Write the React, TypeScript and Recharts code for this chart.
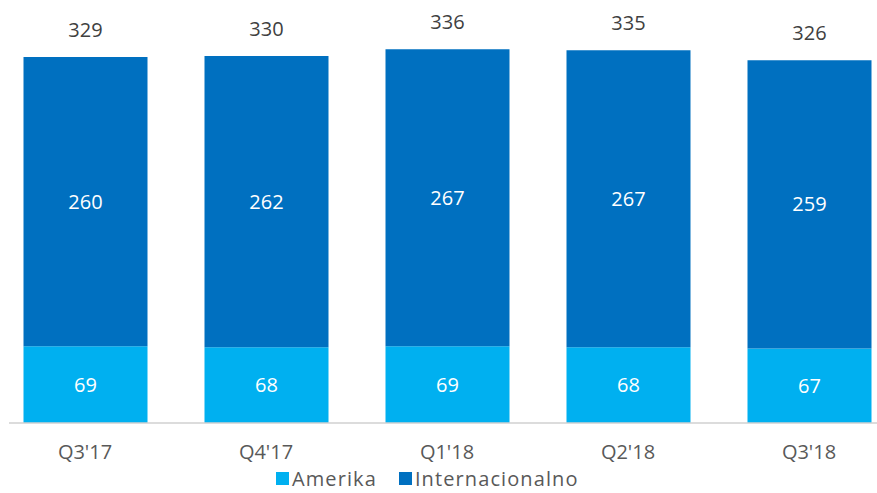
import { BarChart, Bar, XAxis, YAxis, LabelList, Legend } from 'recharts';

const quarters = ["Q3'17", "Q4'17", "Q1'18", "Q2'18", "Q3'18"];
const amerika = [69, 68, 69, 68, 67];
const internacionalno = [260, 262, 267, 267, 259];
const totals = [329, 330, 336, 335, 326];

const data = quarters.map((q, i) => ({
  quarter: q,
  amerika: amerika[i],
  internacionalno: internacionalno[i],
  total: totals[i],
}));

const LIGHT = '#00B0F0';
const DARK = '#0070C0';
const FONT = "'Open Sans', sans-serif";

const legendItems = [
  { label: 'Amerika', color: LIGHT },
  { label: 'Internacionalno', color: DARK },
];

const LegendContent = () => (
  <div style={{ display: 'flex', alignItems: 'center', fontFamily: FONT, fontSize: 20, lineHeight: '21px', color: '#595959', whiteSpace: 'nowrap' }}>
    {legendItems.map((it, i) => (
      <div key={it.label} style={{ display: 'flex', alignItems: 'center', marginRight: i === 0 ? 22 : 0 }}>
        <span style={{ display: 'inline-block', width: 13, height: 13, background: it.color, marginRight: 3 }} />
        <span style={{ letterSpacing: 1.1 }}>{it.label}</span>
      </div>
    ))}
  </div>
);

export default function App() {
  return (
    <div style={{ position: 'absolute', left: 0, top: 0, width: 877, height: 493, overflow: 'hidden', background: '#fff' }}>
      <div style={{ position: 'absolute', left: -20, top: 0 }}>
        <BarChart
          width={919.5}
          height={493}
          data={data}
          margin={{ top: 22.5, right: 0, bottom: 0, left: 14.5 }}
          barSize={124}
          style={{ fontFamily: FONT }}
        >
          <XAxis
            dataKey="quarter"
            height={70}
            axisLine={{ stroke: '#d0d0d0', strokeWidth: 1.5 }}
            tickLine={false}
            tickSize={0}
            tickMargin={22}
            tick={{ fill: '#595959', fontSize: 20 }}
            interval={0}
          />
          <YAxis hide domain={[0, 360]} />
          <Legend
            verticalAlign="middle"
            align="center"
            content={<LegendContent />}
            wrapperStyle={{ top: 468, left: 296, width: 'auto' }}
          />
          <Bar dataKey="amerika" stackId="a" fill={LIGHT} isAnimationActive={false}>
            <LabelList dataKey="amerika" position="center" fill="#ffffff" fontSize={20} />
          </Bar>
          <Bar dataKey="internacionalno" stackId="a" fill={DARK} isAnimationActive={false}>
            <LabelList dataKey="internacionalno" position="center" fill="#ffffff" fontSize={20} />
            <LabelList dataKey="total" position="top" offset={20} fill="#404040" fontSize={20} />
          </Bar>
        </BarChart>
      </div>
      <div style={{ position: 'absolute', left: 0, top: 418, width: 9, height: 10, background: '#fff' }} />
    </div>
  );
}
